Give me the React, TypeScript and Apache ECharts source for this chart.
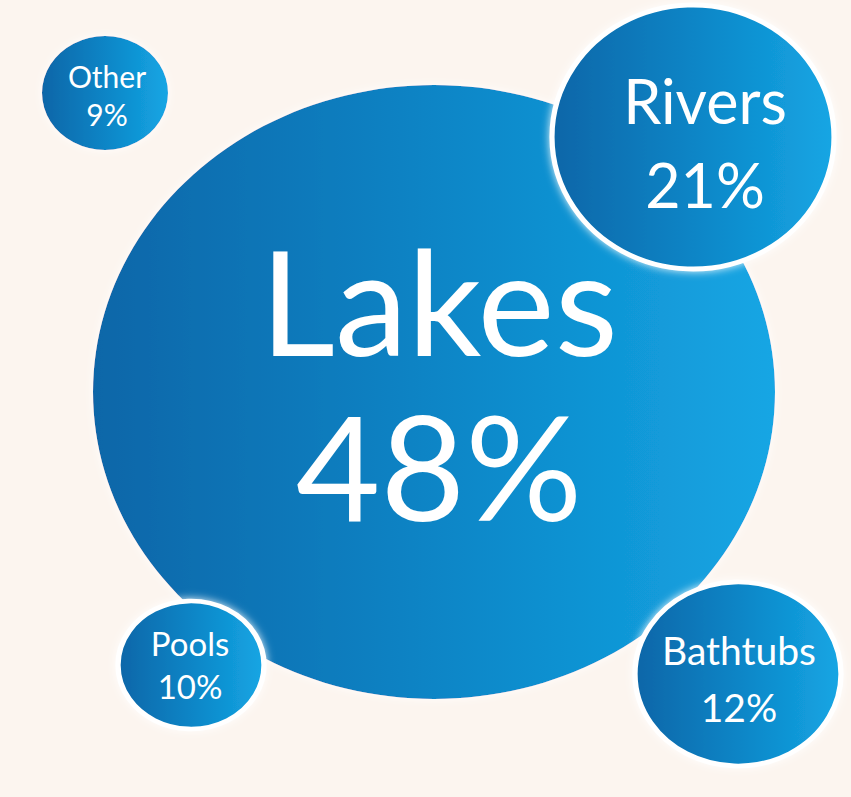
import React, { useEffect, useRef } from "react";
import * as echarts from "echarts";

// Data
const categories = ["Lakes", "Rivers", "Bathtubs", "Pools", "Other"];
const shares = [48, 21, 12, 10, 9];

// Layout (pixel-space positions on hidden axes, bubble sizes, label styles)
const centerX = [434, 693, 738, 191, 105];
const centerY = [392, 137, 674, 665, 93];
const bubbleW = [682, 282, 206, 146, 126];
const bubbleH = [614, 264, 184, 128, 114];
const fontSizes = [146, 61, 39, 33, 30];
const lineHeights = [165, 84, 57, 43, 38];
const labelDX = [5, 12, 1, -1, 2];
const labelDY = [-10, 5, 4, -1, 2];
const borderW = [0, 5, 5, 5, 0];

export default function App() {
  const ref = useRef<HTMLDivElement>(null);
  useEffect(() => {
    if (!ref.current) return;
    const chart = echarts.init(ref.current, undefined, { renderer: "svg" });
    const grad = () =>
      new echarts.graphic.LinearGradient(0, 0, 1, 0, [
        { offset: 0, color: "#0a66a8" },
        { offset: 0.5, color: "#0c85c6" },
        { offset: 1, color: "#15a6e4" },
      ]);
    const data = categories.map((name, i) => ({
      name,
      value: [centerX[i], centerY[i], shares[i]],
      symbolSize: [bubbleW[i], bubbleH[i]],
      itemStyle: {
        color: grad(),
        opacity: 1,
        borderColor: "#ffffff",
        borderWidth: borderW[i],
        shadowColor: "rgba(255,255,255,0.9)",
        shadowBlur: 8,
      },
      label: {
        show: true,
        position: "inside",
        offset: [labelDX[i], labelDY[i]],
        formatter: `${name}\n${shares[i]}%`,
        color: "#ffffff",
        opacity: 1,
        fontFamily: "Lato",
        fontWeight: 400,
        fontSize: fontSizes[i],
        lineHeight: lineHeights[i],
        align: "center",
      },
    }));
    chart.setOption({
      animation: false,
      backgroundColor: "#fcf5ef",
      grid: { left: 0, right: 0, top: 0, bottom: 0 },
      xAxis: { type: "value", min: 0, max: 851, show: false },
      yAxis: { type: "value", min: 0, max: 797, inverse: true, show: false },
      series: [
        {
          type: "scatter",
          symbol: "circle",
          itemStyle: { opacity: 1 },
          data,
          emphasis: { disabled: true },
        },
      ],
    });
    return () => chart.dispose();
  }, []);
  return (
    <div
      ref={ref}
      style={{ position: "fixed", left: 0, top: 0, width: 851, height: 797 }}
    />
  );
}
